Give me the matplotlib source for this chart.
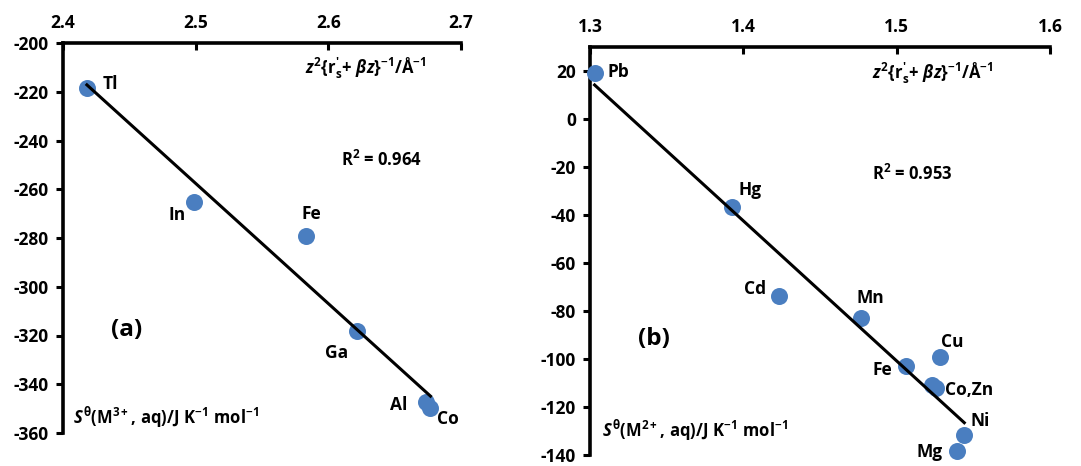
import numpy as np
import matplotlib.pyplot as plt

plt.rcParams['font.family'] = ['Open Sans', 'DejaVu Sans']
plt.rcParams['font.weight'] = 'bold'
plt.rcParams['mathtext.fontset'] = 'custom'
plt.rcParams['mathtext.rm'] = 'Open Sans:bold'
plt.rcParams['mathtext.it'] = 'Open Sans:italic:bold'
plt.rcParams['mathtext.bf'] = 'Open Sans:bold'

# (a) trivalent ions
ions_3 = ['Tl', 'In', 'Fe', 'Ga', 'Al', 'Co']
x_3 = [2.418, 2.499, 2.583, 2.6216, 2.6735, 2.677]
s_3 = [-218.3, -265.4, -279.2, -318.2, -347.4, -349.9]

# (b) divalent ions
ions_2 = ['Pb', 'Hg', 'Cd', 'Mn', 'Fe', 'Cu', 'Co', 'Zn', 'Ni', 'Mg']
x_2 = [1.303, 1.3926, 1.4233, 1.4768, 1.506, 1.5283, 1.5233, 1.5255, 1.5441, 1.5392]
s_2 = [19.2, -36.5, -73.9, -82.9, -102.8, -99.2, -111.0, -112.1, -131.5, -138.5]

# label text and offsets in pixels (Co and Zn share one label)
names_2 = ['Pb', 'Hg', 'Cd', 'Mn', 'Fe', 'Cu', None, 'Co,Zn', 'Ni', 'Mg']
offs_3 = [(23, 4), (-17, -13), (6, 22), (-20, -22), (-27, -3), (17, -11)]
offs_2 = [(24, 1), (18, 17), (-24, 7), (9, 20), (-23, -4), (12, 15),
          None, (33, -2), (16, 14), (-27, -1)]

BLUE = '#4a7ec0'
XLABEL = r"$z^2\{\mathrm{r}_\mathrm{s}'\mathrm{+}\ \beta z\}^{-1}/\mathrm{\AA}^{-1}$"


def ylabel(charge):
    return (r'$\mathit{S}^{\mathrm{\theta}}(\mathrm{M}^{' + charge +
            r'}\mathrm{,}\ \mathrm{aq)/J\ K}^{-1}\mathrm{\ mol}^{-1}$')


def panel(ax, xs, ys, names, offs, xlim, ylim, xticks, yticks, tag, r2, ylab,
          tag_pos, r2_pos, xl_pos, yl_pos):
    ax.scatter(xs, ys, s=150, color=BLUE, zorder=3, linewidths=0,
               clip_on=False)
    k, b = np.polyfit(xs, ys, 1)
    xf = np.array([min(xs), max(xs)])
    ax.plot(xf, k * xf + b, color='black', lw=2.2, zorder=4)
    for n, x, y, o in zip(names, xs, ys, offs):
        if n is None:
            continue
        ax.annotate(n, (x, y), xytext=o, textcoords='offset pixels',
                    ha='center', va='center', fontsize=12.5, fontweight='bold')
    ax.set_xlim(*xlim)
    ax.set_ylim(*ylim)
    ax.xaxis.tick_top()
    ax.set_xticks(xticks)
    ax.set_yticks(yticks)
    ax.set_xticklabels([f'{t:.1f}' for t in xticks])
    ax.set_yticklabels([f'{t:d}' for t in yticks])
    ax.tick_params(axis='x', direction='in', length=5, width=2.2, pad=8,
                   labelsize=12.5)
    ax.tick_params(axis='y', direction='out', length=5, width=2.2, pad=5,
                   labelsize=12.5)
    for side in ['right', 'bottom']:
        ax.spines[side].set_visible(False)
    for side in ['left', 'top']:
        ax.spines[side].set_linewidth(2.6)
    ax.text(*tag_pos, tag, transform=ax.transAxes, fontsize=17.5,
            ha='center', va='center', fontweight='bold')
    ax.text(*r2_pos, r2, transform=ax.transAxes, fontsize=12,
            ha='center', va='center', fontweight='bold')
    ax.text(*xl_pos, XLABEL, transform=ax.transAxes, fontsize=12,
            ha='center', va='center')
    ax.text(*yl_pos, ylab, transform=ax.transAxes, fontsize=12,
            ha='left', va='center')


fig = plt.figure(figsize=(10.81, 4.66), dpi=100)
W, H = 1081, 466

# axes rectangles from pixel extents
ax1 = fig.add_axes([63 / W, 1 - 433 / H, 398 / W, 390 / H])
ax2 = fig.add_axes([590 / W, 1 - 455 / H, 460 / W, 408 / H])

panel(ax1, x_3, s_3, ions_3, offs_3, (2.4, 2.7), (-360, -200),
      [2.4, 2.5, 2.6, 2.7], list(range(-360, -199, 20)), '(a)',
      r'R$^\mathbf{2}$ = 0.964', ylabel('3+'),
      (0.16, 0.265), (0.8, 0.70), (0.76, 0.935), (0.025, 0.04))

panel(ax2, x_2, s_2, names_2, offs_2, (1.3, 1.6), (-140, 30),
      [1.3, 1.4, 1.5, 1.6], list(range(-140, 21, 20)), '(b)',
      r'R$^\mathbf{2}$ = 0.953', ylabel('2+'),
      (0.14, 0.285), (0.7, 0.69), (0.745, 0.935), (0.027, 0.06))

fig.savefig('out.png', dpi=100)
